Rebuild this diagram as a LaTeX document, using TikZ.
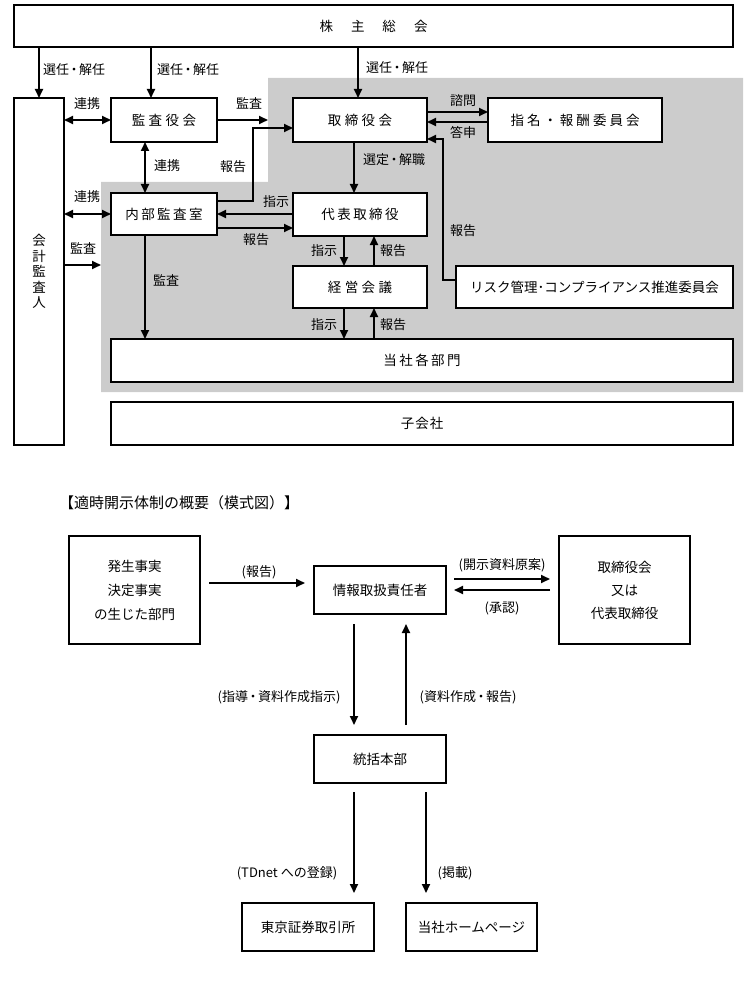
\documentclass[tikz,border=0pt]{standalone}
\usepackage{fontspec}
\setmainfont{Noto Sans CJK JP}
\usetikzlibrary{arrows.meta,calc}
\definecolor{areagray}{RGB}{204,204,204}
\newcommand\tk{\kern2.5pt}
\newcommand\tkk{\kern3.5pt}
\newcommand\mkbox[7][]{\node[box,#1,minimum width={(#5-#3)*1pt},minimum height={(#6-#4)*1pt}] (#2) at ({(#3+#5)/2},{(#4+#6)/2}) {#7};}
\begin{document}
\begin{tikzpicture}[x=1pt,y=-1pt,
  box/.style={draw=black,line width=1.2pt,fill=white,inner sep=0pt,outer sep=0pt,font=\fontsize{13.5}{16}\selectfont},
  arr/.style={line width=1.8pt,-{Triangle[length=9pt,width=8pt]}},
  darr/.style={line width=1.8pt,{Triangle[length=9pt,width=8pt]}-{Triangle[length=9pt,width=8pt]}},
  lbl/.style={inner sep=0pt,font=\fontsize{13}{15}\selectfont},
]
\useasboundingbox (0,0) rectangle (750,1000);
% shaded region
\fill[areagray] (268,78) -- (743,78) -- (743,392) -- (101,392) -- (101,182) -- (268,182) -- cycle;

% boxes (upper chart)
\mkbox{kabu}{14}{5}{733}{47}{株\hspace{18pt}主\hspace{18pt}総\hspace{18pt}会}
\mkbox[align=center,font=\fontsize{13.5}{15.5}\selectfont]{kaikei}{14}{98}{64}{445}{会\\計\\監\\査\\人}
\mkbox{kansa}{111}{98}{217}{142}{監\tkk 査\tkk 役\tkk 会}
\mkbox{tori}{293}{98}{427}{142}{取\tkk 締\tkk 役\tkk 会}
\mkbox{shimei}{488}{98}{662}{142}{指\kern3pt 名\kern3pt ・\kern3pt 報\kern3pt 酬\kern3pt 委\kern3pt 員\kern3pt 会}
\mkbox{naibu}{111}{193}{217}{235}{内\tk 部\tk 監\tk 査\tk 室}
\mkbox{daihyo}{293}{193}{427}{236}{代\tk 表\tk 取\tk 締\tk 役}
\mkbox{keiei}{293}{266}{427}{308}{経\tkk 営\tkk 会\tkk 議}
\mkbox{risk}{456}{266}{733}{308}{リスク管理･コンプライアンス推進委員会}
\mkbox{bumon}{111}{339}{733}{382}{当\tk 社\tk 各\tk 部\tk 門}
\mkbox{kogai}{111}{402}{733}{445}{子\kern1pt 会\kern1pt 社}

\coordinate (g1) at (268,120);
\coordinate (g2) at (101,265);
\coordinate (b1) at (253,201);
\coordinate (b2) at (253,128);
\coordinate (r1) at (443,280);
\coordinate (r2) at (443,139);

% connectors (upper chart)
\draw[arr] (kaikei.north |- kabu.south) -- (kaikei.north);
\draw[arr] (kabu.south -| 151,0) -- (kansa.north -| 151,0);
\draw[arr] (kabu.south -| 358,0) -- (tori.north -| 358,0);
\draw[darr] (kaikei.east |- kansa) -- (kansa.west);
\draw[arr] (kansa.east) -- (g1);
\draw[darr] (kansa.south -| 145,0) -- (naibu.north -| 145,0);
\draw[arr] (naibu.east |- b1) -- (b1) -- (b2) -- (tori.west |- b2);
\draw[arr] (daihyo.west |- 0,214) -- (naibu.east |- 0,214);
\draw[arr] (naibu.east |- 0,228) -- (daihyo.west |- 0,228);
\draw[darr] (kaikei.east |- 0,214) -- (naibu.west |- 0,214);
\draw[arr] (kaikei.east |- g2) -- (g2);
\draw[arr] (naibu.south -| 145,0) -- (bumon.north -| 145,0);
\draw[arr] (tori.south -| 354,0) -- (daihyo.north -| 354,0);
\draw[arr] (daihyo.south -| 344,0) -- (keiei.north -| 344,0);
\draw[arr] (keiei.north -| 374,0) -- (daihyo.south -| 374,0);
\draw[arr] (keiei.south -| 344,0) -- (bumon.north -| 344,0);
\draw[arr] (bumon.north -| 374,0) -- (keiei.south -| 374,0);
\draw[arr] (tori.east |- 0,112) -- (shimei.west |- 0,112);
\draw[arr] (shimei.west |- 0,122) -- (tori.east |- 0,122);
\draw[arr] (risk.west |- r1) -- (r1) -- (r2) -- (tori.east |- r2);

% labels (upper chart)
\node[lbl] (l1) at (74,70) {選任\kern-1.5pt・\kern-1.5pt 解任};
\node[lbl] (l2) at (188,70) {選任\kern-1.5pt・\kern-1.5pt 解任};
\node[lbl] (l3) at (397,68) {選任\kern-1.5pt・\kern-1.5pt 解任};
\node[lbl] (l4) at (87,104) {連携};
\node[lbl] (l5) at (249,103) {監査};
\node[lbl] (l6) at (167,166) {連携};
\node[lbl] (l7) at (233,167) {報告};
\node[lbl] (l8) at (394,160) {選定\kern-1.5pt・\kern-1.5pt 解職};
\node[lbl] (l9) at (463,101) {諮問};
\node[lbl] (l10) at (463,132) {答申};
\node[lbl] (l11) at (87,197) {連携};
\node[lbl] (l12) at (276,202) {指示};
\node[lbl] (l13) at (256,240) {報告};
\node[lbl] (l14) at (83,248) {監査};
\node[lbl] (l15) at (166,280) {監査};
\node[lbl] (l16) at (463,231) {報告};
\node[lbl] (l17) at (324,251) {指示};
\node[lbl] (l18) at (393,251) {報告};
\node[lbl] (l19) at (324,325) {指示};
\node[lbl] (l20) at (393,325) {報告};

% lower chart
\node[lbl,anchor=west,font=\fontsize{15}{17}\selectfont] (title) at (59,503) {【適時開示体制の概要（模式図）】};
\mkbox[align=center,font=\fontsize{13.5}{24}\selectfont]{hassei}{69}{536}{200}{644}{発生事実\\決定事実\\の生じた部門}
\mkbox{joho}{314}{566}{446}{614}{情報取扱責任者}
\mkbox[align=center,font=\fontsize{13.5}{23}\selectfont]{torib}{559}{536}{690}{644}{取締役会\\又は\\代表取締役}
\mkbox{tokatsu}{314}{735}{446}{783}{統括本部}
\mkbox{tse}{242}{903}{374}{951}{東京証券取引所}
\mkbox{hp}{406}{903}{537}{951}{当社ホームページ}

\draw[arr,shorten <=9pt,shorten >=9pt] (hassei.east |- 0,583) -- (joho.west |- 0,583);
\draw[arr,shorten <=8pt,shorten >=9pt] (joho.east |- 0,579) -- (torib.west |- 0,579);
\draw[arr,shorten <=9pt,shorten >=8pt] (torib.west |- 0,590) -- (joho.east |- 0,590);
\draw[arr,shorten <=10pt,shorten >=10pt] (joho.south -| 354,0) -- (tokatsu.north -| 354,0);
\draw[arr,shorten <=10pt,shorten >=10pt] (tokatsu.north -| 406,0) -- (joho.south -| 406,0);
\draw[arr,shorten <=9pt,shorten >=10pt] (tokatsu.south -| 354,0) -- (tse.north -| 354,0);
\draw[arr,shorten <=9pt,shorten >=10pt] (tokatsu.south -| 426,0) -- (hp.north -| 426,0);

\node[lbl] (m1) at (259,572) {(報告)};
\node[lbl] (m2) at (502,565) {(開示資料原案)};
\node[lbl] (m3) at (502,608) {(承認)};
\node[lbl] (m4) at (279,697) {(指導\kern-1.5pt・\kern-1.5pt 資料作成指示)};
\node[lbl] (m5) at (468,697) {(資料作成\kern-1.5pt・\kern-1.5pt 報告)};
\node[lbl] (m6) at (287,873) {(TDnet への登録)};
\node[lbl] (m7) at (455,873) {(掲載)};
\end{tikzpicture}
\end{document}
